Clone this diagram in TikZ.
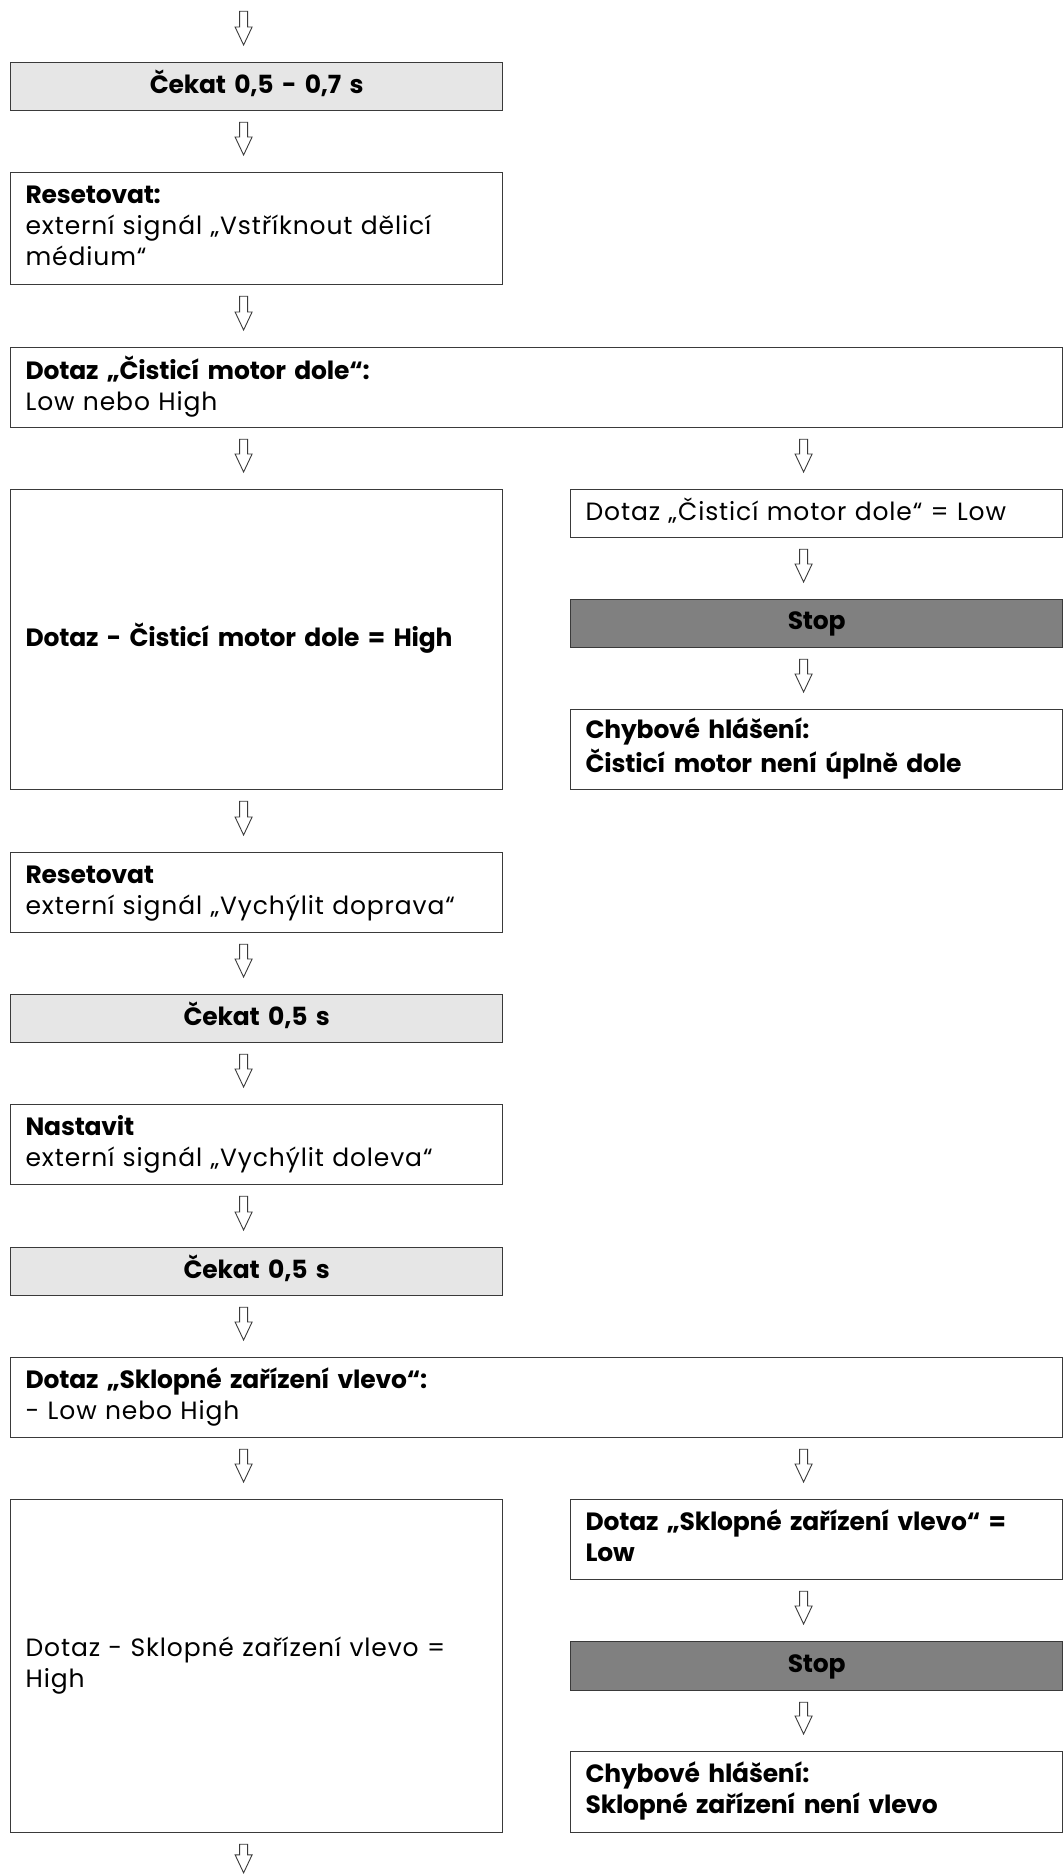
\documentclass[tikz,border=0pt]{standalone}
\usepackage{fontspec}
\setmainfont{Poppins}[LetterSpace=3.5,BoldFeatures={LetterSpace=-0.8}]
\usetikzlibrary{calc}
\definecolor{lightbox}{HTML}{E6E6E6}
\definecolor{darkbox}{HTML}{808080}
\definecolor{edgec}{HTML}{3A3A3A}
\tikzset{
  x=1pt, y=1pt,
  fbox/.style={draw=edgec, line width=1.2pt, rectangle, anchor=north west,
    inner xsep=15pt, inner ysep=0pt, align=left,
    font=\fontsize{25}{31}\selectfont, text=black},
  narrow/.style={text width=462pt},
  wide/.style={text width=1022pt},
  waitbox/.style={fbox, narrow, fill=lightbox, align=center, minimum height=48pt},
  stopbox/.style={fbox, narrow, fill=darkbox, align=center, minimum height=48pt},
  anchorpt/.style={inner sep=0pt, minimum size=0pt},
  blockarrow/.style={draw=edgec, fill=white, line width=0.9pt, line join=miter}
}
% #1: node giving the column (x), #2: source node, #3: target node
\newcommand\flowarrow[3]{%
  \path[blockarrow] let \p1=($(#1.north)+(-13pt,0pt)$), \p2=(#2.south), \p3=(#3.north) in
    (\x1-4pt,\y2-11pt) -- (\x1+4pt,\y2-11pt) -- (\x1+4pt,\y3+35pt)
    -- (\x1+8.5pt,\y3+35pt) -- (\x1,\y3+17pt) -- (\x1-8.5pt,\y3+35pt)
    -- (\x1-4pt,\y3+35pt) -- cycle;}
\begin{document}
\begin{tikzpicture}
\useasboundingbox (0,0) rectangle (1064,-1874);
\fill[white] (0,0) rectangle (1064,-1874);

\node[anchorpt] (start) at (256,0) {};
\node[waitbox] (w1) at (10,-62) {\strut\textbf{Čekat 0,5 - 0,7 s}\strut};
\node[fbox, narrow, minimum height=112pt] (r1) at (10,-172)
  {\strut\textbf{Resetovat:}\\externí signál „Vstříknout dělicí\\médium“\strut};
\node[fbox, wide, minimum height=80pt] (q1) at (10,-347)
  {\strut\textbf{Dotaz „Čisticí motor dole“:}\\Low nebo High\strut};
\node[fbox, narrow, minimum height=300pt] (h1) at (10,-489)
  {\strut\textbf{Dotaz - Čisticí motor dole = High}\strut};
\node[fbox, narrow, minimum height=48pt] (l1) at (570,-489)
  {\strut Dotaz „Čisticí motor dole“ = Low\strut};
\node[stopbox] (s1) at (570,-599) {\strut\textbf{Stop}\strut};
\node[fbox, narrow, minimum height=80pt] (e1) at (570,-709)
  {\strut\textbf{Chybové hlášení:}\\\textbf{Čisticí motor není úplně dole}\strut};
\node[fbox, narrow, minimum height=80pt] (r2) at (10,-852)
  {\strut\textbf{Resetovat}\\externí signál „Vychýlit doprava“\strut};
\node[waitbox] (w2) at (10,-994) {\strut\textbf{Čekat 0,5 s}\strut};
\node[fbox, narrow, minimum height=80pt] (n1) at (10,-1104)
  {\strut\textbf{Nastavit}\\externí signál „Vychýlit doleva“\strut};
\node[waitbox] (w3) at (10,-1247) {\strut\textbf{Čekat 0,5 s}\strut};
\node[fbox, wide, minimum height=80pt] (q2) at (10,-1357)
  {\strut\textbf{Dotaz „Sklopné zařízení vlevo“:}\\- Low nebo High\strut};
\node[fbox, narrow, minimum height=333pt] (h2) at (10,-1499)
  {\strut Dotaz - Sklopné zařízení vlevo =\\High\strut};
\node[fbox, narrow, minimum height=80pt] (l2) at (570,-1499)
  {\strut\textbf{Dotaz „Sklopné zařízení vlevo“ =}\\\textbf{Low}\strut};
\node[stopbox, minimum height=49pt] (s2) at (570,-1641) {\strut\textbf{Stop}\strut};
\node[fbox, narrow, minimum height=81pt] (e2) at (570,-1751)
  {\strut\textbf{Chybové hlášení:}\\\textbf{Sklopné zařízení není vlevo}\strut};
\node[anchorpt] (finish) at (256,-1890) {};

\flowarrow{w1}{start}{w1}
\flowarrow{r1}{w1}{r1}
\flowarrow{r1}{r1}{q1}
\flowarrow{h1}{q1}{h1}
\flowarrow{l1}{q1}{l1}
\flowarrow{s1}{l1}{s1}
\flowarrow{e1}{s1}{e1}
\flowarrow{r2}{h1}{r2}
\flowarrow{w2}{r2}{w2}
\flowarrow{n1}{w2}{n1}
\flowarrow{w3}{n1}{w3}
\flowarrow{w3}{w3}{q2}
\flowarrow{h2}{q2}{h2}
\flowarrow{l2}{q2}{l2}
\flowarrow{s2}{l2}{s2}
\flowarrow{e2}{s2}{e2}
\flowarrow{h2}{h2}{finish}
\end{tikzpicture}
\end{document}
